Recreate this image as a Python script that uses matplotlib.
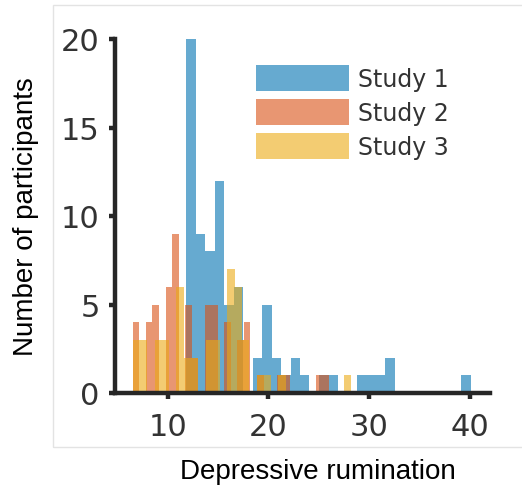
import numpy as np
import matplotlib
matplotlib.use("Agg")
import matplotlib.pyplot as plt
from matplotlib.patches import Rectangle

# ---- data ----
study_names = ["Study 1", "Study 2", "Study 3"]
study_colors = ["#0072B2", "#DA5014", "#EBAA14"]

# histogram ranges (min, max) per study, 30 bins each
study1_range = (11.85, 40.05)
study2_range = (6.55, 26.0)
study3_range = (6.55, 28.2)
n_bins = 30

study1_counts = [20, 9, 8, 12, 5, 6, 0, 2, 5, 2, 1, 2, 1, 0, 1,
                 1, 0, 0, 1, 1, 1, 2, 0, 0, 0, 0, 0, 0, 0, 1]
study2_counts = [4, 0, 4, 5, 0, 6, 9, 0, 5, 2, 0, 5, 5, 0, 4,
                 0, 3, 4, 0, 1, 0, 0, 1, 1, 0, 0, 0, 0, 1, 1]
study3_counts = [3, 3, 0, 3, 3, 0, 6, 2, 2, 0, 3, 3, 0, 7, 6,
                 3, 0, 1, 1, 0, 1, 0, 0, 0, 0, 0, 0, 0, 0, 1]

x_ticks = [10, 20, 30, 40]
y_ticks = [0, 5, 10, 15, 20]
x_label = "Depressive rumination"
y_label = "Number of participants"

# ---- figure ----
W, H = 522, 489
fig = plt.figure(figsize=(W / 100, H / 100), dpi=100)

# light frame of the inner panel
fig.patches.append(Rectangle((53 / W, 1 - 448 / H), (W + 5 - 53) / W, (448 - 5.5) / H,
                             transform=fig.transFigure, fill=False,
                             edgecolor="#e3e3e3", lw=1.0, zorder=0))

ax = fig.add_axes([115 / W, 1 - 394 / H, (490 - 115) / W, (394 - 40) / H])
ax.set_facecolor("none")

ranges = [study1_range, study2_range, study3_range]
counts = [study1_counts, study2_counts, study3_counts]
for name, col, rng, cnt in zip(study_names, study_colors, ranges, counts):
    edges = np.linspace(rng[0], rng[1], n_bins + 1)
    ax.hist(edges[:-1], bins=edges, weights=cnt, color=col, alpha=0.6,
            label=name, histtype="bar", edgecolor="none")

ax.set_xlim(4.78, 41.98)
ax.set_ylim(0, 20)
ax.set_xticks(x_ticks)
ax.set_yticks(y_ticks)

for s in ["top", "right"]:
    ax.spines[s].set_visible(False)
for s in ["left", "bottom"]:
    ax.spines[s].set_linewidth(3.2)
    ax.spines[s].set_color("#262626")
    ax.spines[s].set_capstyle("projecting")

ax.tick_params(axis="both", direction="out", length=4, width=3.2,
               color="#262626", labelsize=22, labelcolor="#333333")
ax.tick_params(axis="x", pad=10)
ax.tick_params(axis="y", pad=7)

leg = ax.legend(loc="upper left", bbox_to_anchor=(256 / W, 1 - 66 / H),
                bbox_transform=fig.transFigure, frameon=False, fontsize=17,
                handlelength=3.95, handleheight=1.32, handletextpad=0.35,
                labelspacing=0.33, borderpad=0, borderaxespad=0)
for t in leg.get_texts():
    t.set_color("#333333")

fig.text(318 / W, 1 - 472 / H, x_label, ha="center", va="center",
         fontsize=20, family="Liberation Sans", color="black")
fig.text(26 / W, 1 - 217 / H, y_label, ha="center", va="center",
         rotation=90, fontsize=20, family="Liberation Sans", color="black")

fig.savefig("out.png", dpi=100)
